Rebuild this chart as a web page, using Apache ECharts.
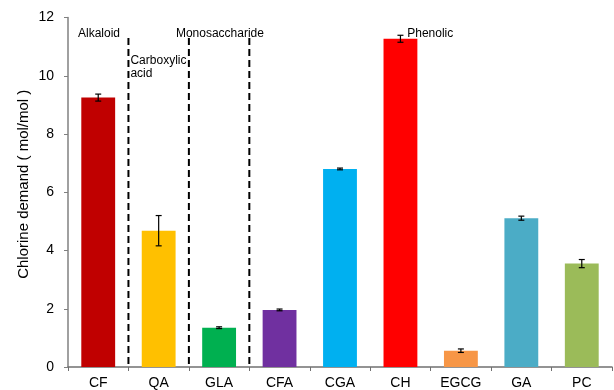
<!DOCTYPE html>
<html>
<head>
<meta charset="utf-8">
<script src="https://cdn.jsdelivr.net/npm/echarts@6/dist/echarts.min.js"></script>
<style>
  html, body { margin: 0; padding: 0; background: #fff; }
  #chart { width: 614px; height: 390px; }
</style>
</head>
<body>
<div id="chart"></div>
<script>
// Compounds, chlorine demand (mol/mol) and standard deviations
const categories = ['CF', 'QA', 'GLA', 'CFA', 'CGA', 'CH', 'EGCG', 'GA', 'PC'];
const demand = [9.25, 4.68, 1.35, 1.96, 6.80, 11.27, 0.56, 5.11, 3.55];
const stdDev = [0.12, 0.52, 0.03, 0.03, 0.03, 0.12, 0.06, 0.07, 0.14];
const barColors = ['#C00000', '#FFC000', '#00B050', '#7030A0', '#00B0F0', '#FF0000', '#F79646', '#4BACC6', '#9BBB59'];

// Compound classes, the category each label starts at and its height
const groupNames = ['Alkaloid', 'Carboxylic\nacid', 'Monosaccharide', 'Phenolic'];
const groupAnchors = ['CF', 'QA', 'GLA', 'CH'];
const groupLevels = [11.45, 10.28, 11.45, 11.45];

// Dashed separators sit after these categories, up to this height
const separatorAfter = ['CF', 'QA', 'GLA'];
const separatorTop = 11.3;

const yTicks = { min: 0, max: 12, interval: 2 };

const chart = echarts.init(document.getElementById('chart'));
const font = 'Liberation Sans, Arial, sans-serif';

// horizontal offsets of the class labels from their category's left edge
const labelShift = [10, 2, -13, 37];

chart.setOption({
  animation: false,
  grid: { left: 68, right: 2, top: 17.5, bottom: 22.7 },
  xAxis: {
    type: 'category',
    data: categories,
    axisLine: { lineStyle: { color: '#707070', width: 1.5 } },
    axisTick: { show: true, length: 4, lineStyle: { color: '#707070' } },
    axisLabel: { color: '#000', fontFamily: font, fontSize: 14, margin: 9 }
  },
  yAxis: {
    type: 'value',
    min: yTicks.min, max: yTicks.max, interval: yTicks.interval,
    name: 'Chlorine demand ( mol/mol )',
    nameLocation: 'middle',
    nameGap: 37,
    nameMoveOverlap: false,
    nameTextStyle: { color: '#000', fontFamily: font, fontSize: 15, padding: [0, 0, 0, 16] },
    splitLine: { show: false },
    axisLine: { show: true, lineStyle: { color: '#808080', width: 1.5 } },
    axisTick: { show: true, length: 4, lineStyle: { color: '#808080' } },
    axisLabel: { color: '#000', fontFamily: font, fontSize: 14, margin: 14 }
  },
  series: [
    {
      type: 'bar',
      barWidth: '56%',
      data: demand.map((v, i) => ({ value: v, itemStyle: { color: barColors[i] } }))
    },
    {
      // error bars
      type: 'custom',
      data: demand.map((v, i) => [i, v, stdDev[i]]),
      z: 5,
      renderItem: function (params, api) {
        const i = api.value(0), v = api.value(1), e = api.value(2);
        const hi = api.coord([i, v + e]);
        const lo = api.coord([i, v - e]);
        const cap = 3;
        const st = { stroke: '#000', lineWidth: 1.2 };
        return {
          type: 'group',
          children: [
            { type: 'line', shape: { x1: hi[0], y1: hi[1], x2: lo[0], y2: lo[1] }, style: st },
            { type: 'line', shape: { x1: hi[0] - cap, y1: hi[1], x2: hi[0] + cap, y2: hi[1] }, style: st },
            { type: 'line', shape: { x1: lo[0] - cap, y1: lo[1], x2: lo[0] + cap, y2: lo[1] }, style: st }
          ]
        };
      }
    },
    {
      // dashed class separators between categories
      type: 'custom',
      data: separatorAfter.map(c => [categories.indexOf(c), separatorTop]),
      z: 4,
      renderItem: function (params, api) {
        const i = api.value(0);
        const a = api.coord([i, 0]);
        const b = api.coord([i + 1, api.value(1)]);
        const x = (a[0] + b[0]) / 2;
        return {
          type: 'line',
          shape: { x1: x, y1: b[1], x2: x, y2: a[1] },
          style: { stroke: '#000', lineWidth: 2, lineDash: [7, 4] }
        };
      }
    },
    {
      // class labels
      type: 'custom',
      data: groupNames.map((n, k) => [categories.indexOf(groupAnchors[k]), groupLevels[k], k]),
      z: 6,
      renderItem: function (params, api) {
        const i = api.value(0), k = api.value(2);
        const p = api.coord([i, api.value(1)]);
        const half = api.size([1, 0])[0] / 2;
        return {
          type: 'text',
          style: {
            x: p[0] - half + labelShift[k],
            y: p[1],
            text: groupNames[k],
            fill: '#000',
            font: '12px ' + font,
            textAlign: 'left',
            textVerticalAlign: 'middle',
            lineHeight: 13
          }
        };
      }
    }
  ]
});
</script>
</body>
</html>
